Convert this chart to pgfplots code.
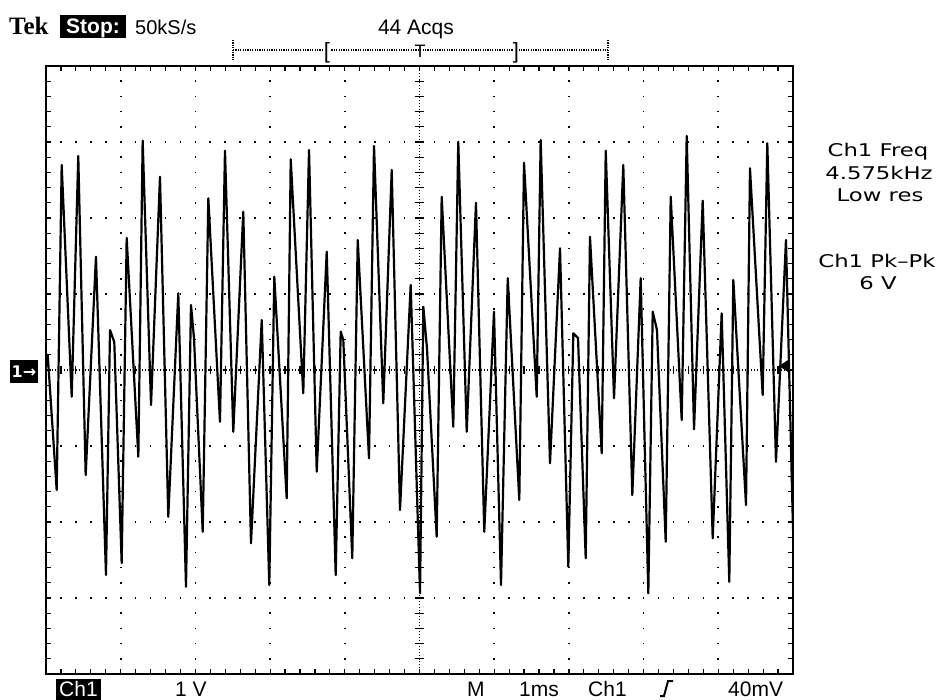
\documentclass[border=0pt]{standalone}
\usepackage{fontspec}
\setmainfont{Liberation Sans}
\newfontfamily\tekfont{Liberation Serif}
\newfontfamily\readfont[FakeStretch=1.3]{DejaVu Sans}
\newfontfamily\symfont{DejaVu Sans}
\usepackage{pgfplots}
\pgfplotsset{compat=1.18}

\begin{document}
\begin{tikzpicture}
\path[use as bounding box] (0pt,0pt) rectangle (947pt,-700pt);
\begin{axis}[
  at={(46pt,-674pt)}, anchor=south west,
  width=747pt, height=608pt, scale only axis,
  xmin=0, xmax=10, ymin=-4, ymax=4,
  xtick={0,...,10}, ytick={-4,...,4},
  minor x tick num=4, minor y tick num=4,
  xticklabels={}, yticklabels={},
  tick align=inside, major tick length=5pt, minor tick length=5pt,
  tick style={black, line width=1.2pt},
  axis line style={line width=1.8pt},
  grid=major,
  major x grid style={black, line width=1.7pt, dash pattern=on 1.7pt off 13.5pt, dash phase=0.85pt},
  major y grid style={black, line width=1.7pt, dash pattern=on 1.7pt off 13.24pt, dash phase=0.85pt},
]
% centre graticule lines with their minor ticks
\draw[line width=1.4pt, dash pattern=on 1.4pt off 1.6pt] (axis cs:0,0) -- (axis cs:10,0);
\draw[line width=1.4pt, dash pattern=on 1.4pt off 1.6pt] (axis cs:5,-4) -- (axis cs:5,4);
\pgfplotsinvokeforeach{0.2,0.4,...,9.9}{\draw[line width=1.2pt] (axis cs:#1,-0.055) -- (axis cs:#1,0.055);}
\pgfplotsinvokeforeach{-3.8,-3.6,...,3.9}{\draw[line width=1.2pt] (axis cs:4.945,#1) -- (axis cs:5.055,#1);}

% Ch1 trace (ms, V)
\addplot[black, line width=2.2pt, line join=round] coordinates {
(0,0.05) (0.023,0.2) (0.143,-1.579) (0.210,2.697) (0.344,-0.351) (0.432,2.816)
(0.531,-1.382) (0.669,1.491) (0.803,-2.697) (0.857,0.526) (0.914,0.368)
(1.013,-2.539) (1.080,1.737) (1.236,-1.141) (1.294,3.017) (1.406,-0.461)
(1.526,2.543) (1.637,-1.930) (1.771,1.009) (1.874,-2.851) (1.941,0.855)
(1.981,0.421) (2.098,-2.128) (2.173,2.259) (2.329,-0.680) (2.396,2.886)
(2.507,-0.812) (2.641,2.083) (2.744,-2.280) (2.888,0.658) (2.989,-2.829)
(3.056,1.228) (3.222,-1.688) (3.276,2.772) (3.444,-0.307) (3.521,2.895)
(3.624,-1.338) (3.758,1.557) (3.878,-2.697) (3.945,0.504) (3.980,0.395)
(4.100,-2.478) (4.173,1.711) (4.324,-1.162) (4.391,2.947) (4.515,-0.438)
(4.628,2.632) (4.739,-1.842) (4.882,1.118) (5.007,-2.938) (5.051,0.833)
(5.100,0.289) (5.230,-2.193) (5.297,2.280) (5.452,-0.746) (5.519,3.004)
(5.632,-0.812) (5.756,2.201) (5.867,-2.128) (5.997,0.767) (6.091,-2.829)
(6.181,1.207) (6.336,-1.711) (6.399,2.728) (6.569,-0.351) (6.622,3.026)
(6.747,-1.228) (6.881,1.601) (6.992,-2.588) (7.059,0.483) (7.122,0.421)
(7.225,-2.478) (7.282,1.754) (7.439,-1.096) (7.493,2.886) (7.604,-0.372)
(7.728,2.697) (7.849,-1.645) (7.961,1.207) (8.063,-2.938) (8.122,0.767)
(8.179,0.526) (8.296,-2.259) (8.363,2.280) (8.510,-0.658) (8.577,3.079)
(8.675,-0.780) (8.791,2.228) (8.925,-2.214) (9.045,0.746) (9.147,-2.786)
(9.201,1.184) (9.371,-1.776) (9.424,2.654) (9.594,-0.329) (9.656,2.983)
(9.772,-1.207) (9.906,1.711) (10,-2.1)
};
\end{axis}

% header
\node[anchor=base west, inner sep=0pt] at (9pt,-35pt) {\tekfont\fontsize{25}{25}\selectfont\bfseries Tek};
\fill (60pt,-15pt) rectangle (126pt,-38pt);
\node[anchor=base, inner sep=0pt, white] at (93pt,-34pt) {\fontsize{21}{21}\selectfont\bfseries Stop:};
\node[anchor=base west, inner sep=0pt] at (135pt,-35pt) {\fontsize{20}{20}\selectfont 50kS/s};
\node[anchor=base, inner sep=0pt] at (416pt,-35pt) {\fontsize{21}{21}\selectfont 44 Acqs};
\draw[line width=1.2pt, dash pattern=on 1.2pt off 1.2pt] (233pt,-50pt) -- (608pt,-50pt);
\draw[line width=1.2pt, dash pattern=on 1.2pt off 1.2pt] (233pt,-40pt) -- (233pt,-61pt);
\draw[line width=1.2pt, dash pattern=on 1.2pt off 1.2pt] (608pt,-40pt) -- (608pt,-61pt);
\node[anchor=base, inner sep=0pt, fill=white] at (327pt,-59pt) {\fontsize{22}{22}\selectfont [};
\node[anchor=base, inner sep=0pt, fill=white] at (516pt,-59pt) {\fontsize{22}{22}\selectfont ]};
\node[anchor=base, inner sep=0pt] at (420pt,-58pt) {\fontsize{18}{18}\selectfont T};

% readouts
\node[anchor=base, inner sep=0pt] at (878pt,-157pt) {\readfont\fontsize{17.5}{17.5}\selectfont Ch1 Freq};
\node[anchor=base, inner sep=0pt] at (879pt,-180pt) {\readfont\fontsize{17.5}{17.5}\selectfont 4.575kHz};
\node[anchor=base, inner sep=0pt] at (880pt,-202pt) {\readfont\fontsize{17.5}{17.5}\selectfont Low res};
\node[anchor=base, inner sep=0pt] at (877pt,-268pt) {\readfont\fontsize{17.5}{17.5}\selectfont Ch1 Pk–Pk};
\node[anchor=base, inner sep=0pt] at (878pt,-290pt) {\readfont\fontsize{17.5}{17.5}\selectfont 6 V};

% channel and trigger markers
\fill (10pt,-360pt) rectangle (38pt,-383pt);
\node[anchor=center, inner sep=0pt, white] at (24pt,-371.5pt) {\symfont\fontsize{16}{16}\selectfont\bfseries 1→};
\fill (779pt,-366pt) -- (788pt,-360pt) -- (788pt,-372pt) -- cycle;

% footer
\fill (56pt,-679pt) rectangle (101pt,-700pt);
\node[anchor=base, inner sep=0pt, white] at (78.5pt,-696pt) {\fontsize{21}{21}\selectfont Ch1};
\node[anchor=base west, inner sep=0pt] at (175pt,-696pt) {\fontsize{21}{21}\selectfont 1 V};
\node[anchor=base west, inner sep=0pt] at (467pt,-696pt) {\fontsize{21}{21}\selectfont M};
\node[anchor=base west, inner sep=0pt] at (519pt,-696pt) {\fontsize{21}{21}\selectfont 1ms};
\node[anchor=base west, inner sep=0pt] at (588pt,-696pt) {\fontsize{21}{21}\selectfont Ch1};
\draw[line width=2pt] (660pt,-696pt) -- (664pt,-696pt) -- (668pt,-681pt) -- (673pt,-681pt);
\node[anchor=base west, inner sep=0pt] at (728pt,-696pt) {\fontsize{21}{21}\selectfont 40mV};
\end{tikzpicture}
\end{document}
